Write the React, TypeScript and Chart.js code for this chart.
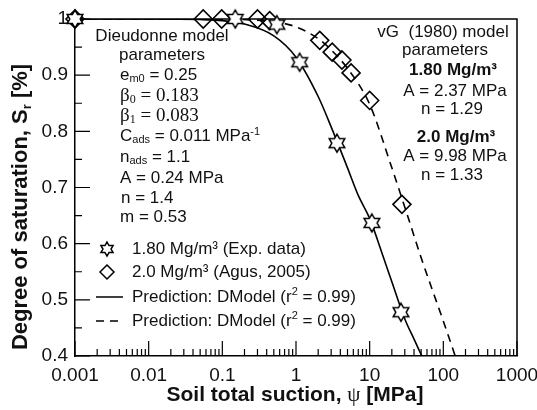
import React, { useEffect, useRef } from 'react';
import { Chart, registerables } from 'chart.js';

Chart.register(...registerables);

// ---- data ----
const starSuction = [0.001, 0.15, 0.55, 1.12, 3.6, 10.7, 26.6];
const starSr = [1.0, 1.0, 0.99, 0.923, 0.779, 0.637, 0.478];

const diamondSuction = [0.001, 0.055, 0.098, 0.3, 0.44, 2.1, 3.1, 4.2, 5.6, 10.0, 27.4];
const diamondSr = [1.0, 1.0, 1.0, 1.0, 0.997, 0.962, 0.941, 0.927, 0.904, 0.855, 0.67];

const solidSuction = [0.001, 0.01, 0.05, 0.1, 0.2, 0.5, 1, 2, 3, 5, 7, 10, 15, 20, 30, 40, 51];
const solidSr = [1.0, 1.0, 0.999, 0.997, 0.991, 0.97, 0.932, 0.862, 0.808, 0.735, 0.686, 0.645, 0.58, 0.532, 0.466, 0.43, 0.4];

const dashedSuction = [0.001, 0.01, 0.1, 0.5, 1, 2, 3, 5, 10, 20, 30, 50, 100, 145];
const dashedSr = [1.0, 1.0, 0.9995, 0.995, 0.986, 0.965, 0.945, 0.912, 0.848, 0.735, 0.665, 0.575, 0.462, 0.4];

const xTicks = [0.001, 0.01, 0.1, 1, 10, 100, 1000];
const xTickLabels = ['0.001', '0.01', '0.1', '1', '10', '100', '1000'];
const yTicks = [0.4, 0.5, 0.6, 0.7, 0.8, 0.9, 1.0];
const yTickLabels = ['0.4', '0.5', '0.6', '0.7', '0.8', '0.9', '1'];
const yMinorTicks = [0.45, 0.55, 0.65, 0.75, 0.85, 0.95];
const xMinorMultipliers = [2, 3, 4, 5, 6, 7, 8, 9];

const legendLabels = ['1.80 Mg/m³ (Exp. data)', '2.0 Mg/m³ (Agus, 2005)', 'Prediction: DModel (r', 'Prediction: DModel (r'];

const SANS = '"Liberation Sans", Arial, sans-serif';
const SERIF = '"Liberation Serif", "Times New Roman", serif';
const INK = '#111';

type Seg = { t: string; f: string; dy?: number };

function drawRich(ctx: CanvasRenderingContext2D, segs: Seg[], x: number, y: number, align: 'left' | 'center') {
  let total = 0;
  const widths: number[] = [];
  for (const s of segs) {
    ctx.font = s.f;
    const w = ctx.measureText(s.t).width;
    widths.push(w);
    total += w;
  }
  let cx = align === 'center' ? x - total / 2 : x;
  ctx.textAlign = 'left';
  ctx.textBaseline = 'middle';
  segs.forEach((s, i) => {
    ctx.font = s.f;
    ctx.fillText(s.t, cx, y + (s.dy || 0));
    cx += widths[i];
  });
}

function hexagramPath(ctx: CanvasRenderingContext2D, cx: number, cy: number, R: number) {
  const r = R / Math.sqrt(3);
  ctx.beginPath();
  for (let i = 0; i < 12; i++) {
    const a = -Math.PI / 2 + (i * Math.PI) / 6;
    const rr = i % 2 === 0 ? R : r;
    const px = cx + rr * Math.cos(a);
    const py = cy + rr * Math.sin(a);
    if (i === 0) ctx.moveTo(px, py);
    else ctx.lineTo(px, py);
  }
  ctx.closePath();
}

function makeStar(R: number, lw: number): HTMLCanvasElement {
  const size = Math.ceil(2 * R + 4);
  const c = document.createElement('canvas');
  c.width = size;
  c.height = size;
  const ctx = c.getContext('2d')!;
  hexagramPath(ctx, size / 2, size / 2, R);
  ctx.fillStyle = '#fff';
  ctx.fill();
  ctx.lineWidth = lw;
  ctx.strokeStyle = '#000';
  ctx.lineJoin = 'miter';
  ctx.stroke();
  return c;
}

const f = (size: number, weight = 'normal', fam = SANS) => `${weight} ${size}px ${fam}`;

const framePlugin = {
  id: 'frameTicks',
  beforeDatasetsDraw(chart: any) {
    const { ctx, chartArea } = chart;
    const xs = chart.scales.x;
    const ys = chart.scales.y;
    ctx.save();
    ctx.strokeStyle = '#000';
    ctx.lineWidth = 1.5;
    ctx.beginPath();
    ctx.moveTo(chartArea.left, chartArea.top);
    ctx.lineTo(chartArea.right, chartArea.top);
    ctx.lineTo(chartArea.right, chartArea.bottom);
    ctx.stroke();
    ctx.lineWidth = 1.2;
    ctx.beginPath();
    for (const d of xTicks) {
      const px = xs.getPixelForValue(d);
      ctx.moveTo(px, chartArea.bottom);
      ctx.lineTo(px, chartArea.bottom - 15);
      if (d < 1000) {
        for (const m of xMinorMultipliers) {
          const mx = xs.getPixelForValue(d * m);
          ctx.moveTo(mx, chartArea.bottom);
          ctx.lineTo(mx, chartArea.bottom - 7);
        }
      }
    }
    for (const v of yTicks) {
      const py = ys.getPixelForValue(v);
      ctx.moveTo(chartArea.left, py);
      ctx.lineTo(chartArea.left + 15, py);
    }
    for (const v of yMinorTicks) {
      const py = ys.getPixelForValue(v);
      ctx.moveTo(chartArea.left, py);
      ctx.lineTo(chartArea.left + 7, py);
    }
    ctx.stroke();
    ctx.restore();
  },
  afterDatasetsDraw(chart: any) {
    const { ctx } = chart;
    ctx.save();
    ctx.fillStyle = INK;
    const T = f(17);
    const sub = f(11);
    drawRich(ctx, [{ t: 'Dieudonne model', f: T }], 162, 36, 'center');
    drawRich(ctx, [{ t: 'parameters', f: T }], 162, 55, 'center');
    drawRich(ctx, [{ t: 'e', f: T }, { t: 'm0', f: sub, dy: 4 }, { t: ' = 0.25', f: T }], 120, 75, 'left');
    const B = f(19, 'normal', SERIF);
    const Bs = f(12, 'normal', SERIF);
    drawRich(ctx, [{ t: 'β', f: B }, { t: '0', f: Bs, dy: 4 }, { t: ' = 0.183', f: B }], 120, 96, 'left');
    drawRich(ctx, [{ t: 'β', f: B }, { t: '1', f: Bs, dy: 4 }, { t: ' = 0.083', f: B }], 120, 116, 'left');
    drawRich(ctx, [{ t: 'C', f: T }, { t: 'ads', f: sub, dy: 4 }, { t: ' = 0.011 MPa', f: T }, { t: '-1', f: sub, dy: -4 }], 120, 136, 'left');
    drawRich(ctx, [{ t: 'n', f: T }, { t: 'ads', f: sub, dy: 4 }, { t: ' = 1.1', f: T }], 120, 157, 'left');
    drawRich(ctx, [{ t: 'A = 0.24 MPa', f: T }], 120, 178, 'left');
    drawRich(ctx, [{ t: 'n = 1.4', f: T }], 121, 198, 'left');
    drawRich(ctx, [{ t: 'm = 0.53', f: T }], 120, 217, 'left');
    const TB = f(17, 'bold');
    drawRich(ctx, [{ t: 'vG  (1980) model', f: T }], 443, 32, 'center');
    drawRich(ctx, [{ t: 'parameters', f: T }], 445, 50, 'center');
    drawRich(ctx, [{ t: '1.80 Mg/m³', f: TB }], 453, 70, 'center');
    drawRich(ctx, [{ t: 'A = 2.37 MPa', f: T }], 455, 91, 'center');
    drawRich(ctx, [{ t: 'n = 1.29', f: T }], 452, 109, 'center');
    drawRich(ctx, [{ t: '2.0 Mg/m³', f: TB }], 456, 137, 'center');
    drawRich(ctx, [{ t: 'A = 9.98 MPa', f: T }], 455, 156, 'center');
    drawRich(ctx, [{ t: 'n = 1.33', f: T }], 452, 175, 'center');

    const rows = [249, 272, 297, 321];
    const tx = 132;
    ctx.lineWidth = 1.5;
    ctx.strokeStyle = '#000';
    hexagramPath(ctx, 107, rows[0], 7);
    ctx.fillStyle = '#fff';
    ctx.fill();
    ctx.stroke();
    ctx.beginPath();
    ctx.moveTo(107, rows[1] - 7);
    ctx.lineTo(114, rows[1]);
    ctx.lineTo(107, rows[1] + 7);
    ctx.lineTo(100, rows[1]);
    ctx.closePath();
    ctx.stroke();
    ctx.beginPath();
    ctx.moveTo(96, rows[2]);
    ctx.lineTo(123, rows[2]);
    ctx.stroke();
    ctx.setLineDash([8, 6]);
    ctx.beginPath();
    ctx.moveTo(96, rows[3]);
    ctx.lineTo(123, rows[3]);
    ctx.stroke();
    ctx.setLineDash([]);
    ctx.fillStyle = INK;
    drawRich(ctx, [{ t: legendLabels[0], f: T }], tx, rows[0], 'left');
    drawRich(ctx, [{ t: legendLabels[1], f: T }], tx, rows[1], 'left');
    drawRich(ctx, [{ t: legendLabels[2], f: T }, { t: '2', f: sub, dy: -5 }, { t: ' = 0.99)', f: T }], tx, rows[2], 'left');
    drawRich(ctx, [{ t: legendLabels[3], f: T }, { t: '2', f: sub, dy: -5 }, { t: ' = 0.99)', f: T }], tx, rows[3], 'left');

    const AB = f(21, 'bold');
    drawRich(ctx, [{ t: 'Soil total suction, ', f: AB }, { t: 'ψ', f: f(21, 'normal', SERIF) }, { t: ' [MPa]', f: AB }], 295, 395, 'center');
    ctx.save();
    ctx.translate(21, 207);
    ctx.rotate(-Math.PI / 2);
    const YB = f(22, 'bold');
    drawRich(ctx, [{ t: 'Degree of saturation, S', f: YB }, { t: 'r', f: f(13, 'bold'), dy: 6 }, { t: ' [%]', f: YB }], 0, 0, 'center');
    ctx.restore();
    ctx.restore();
  },
};

export default function App() {
  const ref = useRef<HTMLCanvasElement | null>(null);
  useEffect(() => {
    if (!ref.current) return;
    const star = makeStar(9, 1.5);
    const toPts = (xs: number[], ys: number[]) => xs.map((x, i) => ({ x, y: ys[i] }));
    const chart = new Chart(ref.current, {
      type: 'scatter',
      data: {
        datasets: [
          {
            label: 'stars',
            data: toPts(starSuction, starSr),
            pointStyle: star as any,
            pointRadius: 9,
            showLine: false,
            clip: false as any,
          },
          {
            label: 'diamonds',
            data: toPts(diamondSuction, diamondSr),
            pointStyle: 'rectRot',
            pointRadius: 9,
            pointBorderWidth: 1.6,
            pointBorderColor: '#000',
            pointBackgroundColor: 'rgba(0,0,0,0)',
            showLine: false,
            clip: false as any,
          },
          {
            label: 'solid',
            data: toPts(solidSuction, solidSr),
            showLine: true,
            pointRadius: 0,
            borderColor: '#000',
            borderWidth: 1.6,
            cubicInterpolationMode: 'monotone',
          },
          {
            label: 'dashed',
            data: toPts(dashedSuction, dashedSr),
            showLine: true,
            pointRadius: 0,
            borderColor: '#000',
            borderWidth: 1.6,
            borderDash: [8, 6],
            cubicInterpolationMode: 'monotone',
          },
        ] as any,
      },
      options: {
        animation: false,
        responsive: false,
        devicePixelRatio: 1,
        layout: { padding: { top: 19, right: 20, left: 0, bottom: 0 } },
        plugins: { legend: { display: false }, tooltip: { enabled: false } },
        scales: {
          x: {
            type: 'logarithmic',
            min: 0.001,
            max: 1000,
            afterBuildTicks: (s: any) => {
              s.ticks = xTicks.map((v) => ({ value: v }));
            },
            ticks: {
              callback: (_v: any, i: number) => xTickLabels[i],
              font: { family: SANS, size: 19 },
              color: INK,
              padding: 8,
              maxRotation: 0,
              autoSkip: false,
            },
            grid: { display: false, drawTicks: false },
            border: { display: true, color: '#000', width: 1.5 },
            afterFit: (s: any) => {
              s.height = 54;
              s.paddingLeft = 0;
              s.paddingRight = 0;
            },
          },
          y: {
            type: 'linear',
            min: 0.4,
            max: 1.0,
            afterBuildTicks: (s: any) => {
              s.ticks = yTicks.map((v) => ({ value: v }));
            },
            ticks: {
              callback: (_v: any, i: number) => yTickLabels[i],
              font: { family: SANS, size: 19 },
              color: INK,
              padding: 7,
            },
            grid: { display: false, drawTicks: false },
            border: { display: true, color: '#000', width: 1.5 },
            afterFit: (s: any) => {
              s.width = 75;
              s.paddingTop = 0;
              s.paddingBottom = 0;
            },
          },
        },
      } as any,
      plugins: [framePlugin],
    });
    return () => chart.destroy();
  }, []);
  return (
    <div style={{ position: 'absolute', left: 0, top: 0, width: 537, height: 410, background: '#fff' }}>
      <canvas ref={ref} width={537} height={410} style={{ width: 537, height: 410, display: 'block' }} />
    </div>
  );
}
